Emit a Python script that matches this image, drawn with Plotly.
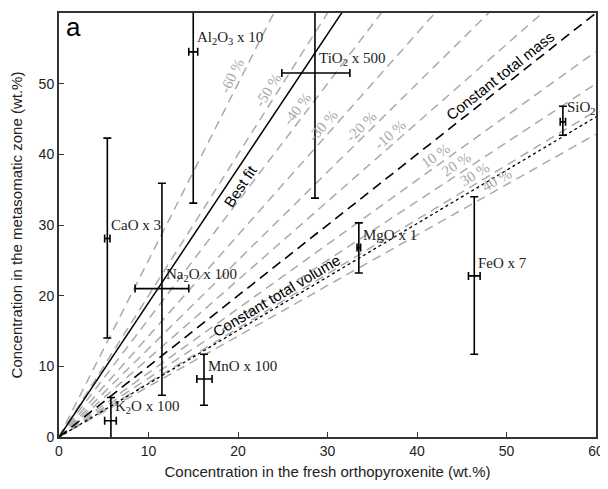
import math
import plotly.graph_objects as go

# oxide data (scaled)
oxides = ["Al<sub>2</sub>O<sub>3</sub> x 10", "TiO<sub>2</sub> x 500", "SiO<sub>2</sub> x 1",
          "MgO x 1", "FeO x 7", "CaO x 3", "Na<sub>2</sub>O x 100", "MnO x 100",
          "K<sub>2</sub>O x 100"]
fresh = [15.0, 28.6, 56.3, 33.5, 46.4, 5.4, 11.5, 16.2, 5.8]
fresh_low = [14.5, 24.9, 56.0, 33.3, 45.75, 5.1, 8.5, 15.4, 5.1]
fresh_high = [15.5, 32.5, 56.6, 33.7, 47.05, 5.7, 14.5, 17.1, 6.4]
meta = [54.5, 51.5, 44.6, 26.8, 22.8, 28.1, 21.0, 8.2, 2.3]
meta_low = [33.1, 33.8, 42.7, 23.2, 11.7, 14.0, 5.9, 4.5, -1.0]
meta_high = [70.0, 70.0, 46.8, 30.3, 34.0, 42.3, 35.9, 11.7, 5.6]

# isocon lines (mass change in %)
mass_change = [-60, -50, -40, -30, -20, -10, 10, 20, 30, 40]
label_x = [20.2, 24.2, 27.4, 30.2, 34.4, 37.6, 42.6, 45.0, 47.0, 49.4]
best_fit_slope = 1.9
const_mass_slope = 1.0
const_volume_slope = 0.755

x_range = [0, 60]
y_range = [0, 60]
plot_w, plot_h = 537, 424


def line_angle(k):
    return math.atan(k * plot_h / plot_w)


def normal_shift(k, d):
    # offset of d px perpendicular to the line (positive = above/left)
    th = line_angle(k)
    return -d * math.sin(th), d * math.cos(th)


fig = go.Figure()

for p in mass_change:
    k = 100.0 / (100 + p)
    fig.add_trace(go.Scatter(x=x_range, y=[0, k * 60], mode="lines",
                             line=dict(color="#aaaaaa", width=1.5, dash="9px,6px"),
                             showlegend=False, hoverinfo="skip"))

fig.add_trace(go.Scatter(x=x_range, y=[0, const_mass_slope * 60], mode="lines",
                         line=dict(color="black", width=1.6, dash="10px,6px"),
                         showlegend=False))
fig.add_trace(go.Scatter(x=x_range, y=[0, const_volume_slope * 60], mode="lines",
                         line=dict(color="black", width=1.3, dash="dot"),
                         showlegend=False))
fig.add_trace(go.Scatter(x=x_range, y=[0, best_fit_slope * 60], mode="lines",
                         line=dict(color="black", width=1.5),
                         showlegend=False))

fig.add_trace(go.Scatter(
    x=fresh, y=meta, mode="markers",
    marker=dict(size=1, color="black"),
    error_x=dict(type="data", symmetric=False,
                 array=[h - v for h, v in zip(fresh_high, fresh)],
                 arrayminus=[v - l for l, v in zip(fresh_low, fresh)],
                 color="black", thickness=1.6, width=4),
    error_y=dict(type="data", symmetric=False,
                 array=[h - v for h, v in zip(meta_high, meta)],
                 arrayminus=[v - l for l, v in zip(meta_low, meta)],
                 color="black", thickness=1.6, width=4),
    showlegend=False))

serif = "Liberation Serif, Times New Roman, serif"
sans = "Liberation Sans, Arial, sans-serif"

for name, x, y in zip(oxides, fresh, meta):
    fig.add_annotation(x=x, y=y, text=name, showarrow=False, xanchor="left",
                       yanchor="bottom", xshift=2, yshift=3,
                       font=dict(family=serif, size=15, color="#222222"))

for p, lx in zip(mass_change, label_x):
    k = 100.0 / (100 + p)
    dx, dy = normal_shift(k, 9)
    fig.add_annotation(x=lx, y=k * lx, text=f"{p} %", showarrow=False,
                       textangle=-math.degrees(line_angle(k)), xshift=dx, yshift=dy,
                       font=dict(family=serif, size=15, color="#a8a8a8"))

dx, dy = normal_shift(best_fit_slope, -12)
fig.add_annotation(x=19.2, y=best_fit_slope * 19.2, text="Best fit", showarrow=False,
                   textangle=-math.degrees(line_angle(best_fit_slope)), xshift=dx, yshift=dy,
                   font=dict(family=sans, size=15, color="black"))
dx, dy = normal_shift(const_mass_slope, 10)
fig.add_annotation(x=50.0, y=const_mass_slope * 50.0, text="Constant total mass",
                   showarrow=False, textangle=-math.degrees(line_angle(const_mass_slope)),
                   xshift=dx, yshift=dy,
                   font=dict(family=sans, size=15, color="black"))
dx, dy = normal_shift(const_volume_slope, 10)
fig.add_annotation(x=24.9, y=const_volume_slope * 24.9, text="Constant total volume",
                   showarrow=False, textangle=-math.degrees(line_angle(const_volume_slope)),
                   xshift=dx, yshift=dy,
                   font=dict(family=sans, size=15, color="black"))
fig.add_annotation(x=0.01, y=1.0, xref="paper", yref="paper", text="a",
                   showarrow=False, xanchor="left", yanchor="top", yshift=3,
                   font=dict(family=sans, size=26, color="black"))

axis_style = dict(showgrid=False, zeroline=False, showline=True, linecolor="#333333",
                  linewidth=2, mirror=True, ticks="inside", ticklen=5,
                  tickcolor="#333333", dtick=10, automargin=False,
                  tickfont=dict(family=sans, size=14, color="#222222"))

fig.update_xaxes(range=x_range, title=dict(text="Concentration in the fresh orthopyroxenite (wt.%)",
                 font=dict(family=sans, size=15, color="#222222"), standoff=9), **axis_style)
fig.update_yaxes(range=y_range, title=dict(text="Concentration in the metasomatic zone (wt.%)",
                 font=dict(family=sans, size=15, color="#222222"), standoff=14), **axis_style)

# page body keeps an 8px margin, so the figure is drawn 8px smaller
fig.update_layout(width=600, height=481, plot_bgcolor="white", paper_bgcolor="white",
                  margin=dict(l=51, r=12, t=5, b=52))

fig.write_html("out.html")
